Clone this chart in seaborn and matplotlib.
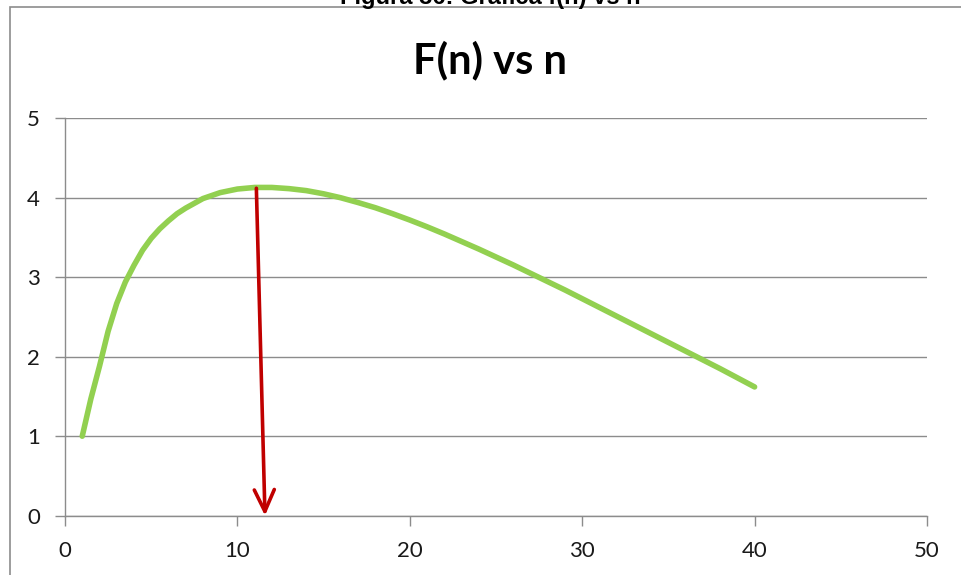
import matplotlib
matplotlib.use("Agg")
import matplotlib.pyplot as plt
import seaborn as sns
import pandas as pd
from matplotlib.patches import Rectangle

# ---- data ----
n_values = [1, 1.5, 2, 2.5, 3, 3.5, 4, 4.5, 5, 5.5, 6, 6.5, 7, 7.5, 8, 9, 10,
            11, 12, 13, 14, 15, 16, 17, 18, 19, 20, 21, 22, 23, 24, 25,
            26, 27, 28, 29, 30, 31, 32, 33, 34, 35, 36, 37, 38, 39, 40]
f_values = [1.00, 1.47, 1.88, 2.32, 2.67, 2.94, 3.15, 3.34, 3.49, 3.61,
            3.71, 3.80, 3.87, 3.93, 3.99, 4.065, 4.11,
            4.13, 4.13, 4.115, 4.09, 4.05, 4.00, 3.94, 3.875, 3.80, 3.72,
            3.635, 3.545, 3.45, 3.355, 3.255, 3.155, 3.05, 2.945, 2.84,
            2.73, 2.62, 2.51, 2.40, 2.29, 2.18, 2.07, 1.96, 1.85, 1.735, 1.62]
x_ticks = [0, 10, 20, 30, 40, 50]
y_ticks = [0, 1, 2, 3, 4, 5]
arrow_start = (11.1, 4.12)
arrow_end = (11.6, 0.0)
title = "F(n) vs n"
caption = "Figura 36: Gráfica f(n) vs n"

df = pd.DataFrame({"n": n_values, "F": f_values})

sns.set_theme(style="white")
plt.rcParams["font.family"] = ["Lato", "DejaVu Sans"]

fig = plt.figure(figsize=(9.61, 5.75), dpi=100)
ax = fig.add_axes([65 / 961, 1 - 515.7 / 575, (927 - 65) / 961, (515.7 - 118.3) / 575])

grid_c = "#8c8c8c"
ax.set_xlim(0, 50)
ax.set_ylim(0, 5)
ax.set_xticks(x_ticks)
ax.set_yticks(y_ticks)
ax.yaxis.grid(True, color=grid_c, linewidth=1.0)
ax.set_axisbelow(True)

sns.lineplot(data=df, x="n", y="F", ax=ax, color="#92D050", linewidth=4.0,
             solid_capstyle="round", solid_joinstyle="round", zorder=3)

ax.annotate("", xy=arrow_end, xytext=arrow_start,
            arrowprops=dict(arrowstyle="->,head_length=1.3,head_width=0.6",
                            color="#C00000", lw=2.6, shrinkA=0, shrinkB=0),
            zorder=4)

for side in ["top", "right"]:
    ax.spines[side].set_visible(False)
for side in ["left", "bottom"]:
    ax.spines[side].set_color(grid_c)
    ax.spines[side].set_linewidth(1.0)

ax.tick_params(axis="y", which="major", left=True, length=7, width=1.0,
               color=grid_c, labelsize=16, pad=11, labelcolor="#1a1a1a")
ax.tick_params(axis="x", which="major", bottom=True, length=7, width=1.0,
               color=grid_c, labelsize=16, pad=11, labelcolor="#1a1a1a")
ax.set_xlabel("")
ax.set_ylabel("")

fig.text(490 / 961, 1 - 60 / 575, title, ha="center", va="center",
         fontsize=30, fontweight="bold", color="black")
fig.text(490 / 961, 1 - 4 / 575, caption, ha="center", va="baseline",
         fontsize=17, fontweight="bold", color="black",
         family=["Liberation Sans", "DejaVu Sans"])

fig.patches.append(Rectangle((9.5 / 961, -0.2), 1.2, 1 - 7 / 575 + 0.2,
                             transform=fig.transFigure, fill=False,
                             edgecolor=grid_c, linewidth=1.2))

fig.savefig("out.png", dpi=100)
